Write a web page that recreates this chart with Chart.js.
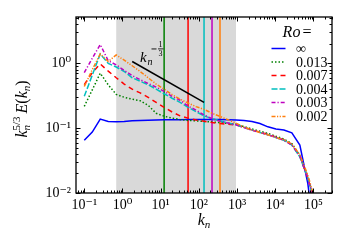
<!DOCTYPE html>
<html><head><meta charset="utf-8">
<script src="https://cdn.jsdelivr.net/npm/chart.js@4/dist/chart.umd.min.js"></script>
<style>html,body{margin:0;padding:0;background:#fff;}#wrap{width:350px;height:250px;position:relative;}</style>
</head><body><div id="wrap"><canvas id="c" width="350" height="250"></canvas></div>
<script>
// shell wavenumbers k_n
const kn = [0.1, 0.1618, 0.2618, 0.42361, 0.68541, 1.10902, 1.79443, 2.90344, 4.69787, 7.60132,
  12.2992, 19.9005, 32.1997, 52.1002, 84.2999, 136.4, 220.7, 357.1, 577.8, 934.9,
  1512.7, 2447.6, 3960.3, 6407.9, 10368.2, 16776.1, 27144.3, 43920.4, 71064.7, 114985];
const roLabels = ['\u221E', '0.013', '0.007', '0.004', '0.003', '0.002'];
const E_inf = [0.065, 0.087, 0.138, 0.127, 0.126, 0.127, 0.130, 0.132, 0.133, 0.134,
  0.135, 0.135, 0.135, 0.136, 0.136, 0.136, 0.136, 0.136, 0.135, 0.134,
  0.131, 0.127, 0.118, 0.105, 0.097, 0.094, 0.085, 0.055, 0.014, 0.0015];
const E_013 = [0.217, 0.39, 0.706, 0.467, 0.333, 0.30, 0.28, 0.265, 0.226, 0.17,
  0.153, 0.143, 0.136, 0.132, 0.130, 0.127, 0.125, 0.122, 0.118, 0.116,
  0.106, 0.097, 0.090, 0.083, 0.075, 0.068, 0.058, 0.038, 0.017, 0.006];
const E_007 = [0.47, 0.72, 0.98, 0.76, 0.60, 0.48, 0.40, 0.35, 0.30, 0.25,
  0.21, 0.178, 0.155, 0.143, 0.134, 0.128, 0.122, 0.118, 0.115, 0.112,
  0.103, 0.094, 0.087, 0.080, 0.073, 0.066, 0.056, 0.037, 0.017, 0.006];
const E_004 = [0.31, 0.66, 1.40, 1.00, 0.88, 0.75, 0.60, 0.53, 0.47, 0.40,
  0.34, 0.29, 0.25, 0.21, 0.18, 0.155, 0.14, 0.13, 0.12, 0.113,
  0.103, 0.094, 0.086, 0.079, 0.072, 0.065, 0.055, 0.036, 0.017, 0.006];
const E_003 = [0.72, 1.20, 1.95, 1.10, 0.95, 0.78, 0.65, 0.56, 0.49, 0.43,
  0.37, 0.31, 0.27, 0.22, 0.19, 0.16, 0.14, 0.128, 0.12, 0.113,
  0.102, 0.093, 0.086, 0.079, 0.072, 0.065, 0.055, 0.037, 0.017, 0.0065];
const E_002 = [0.44, 0.80, 1.40, 1.07, 1.35, 1.12, 0.92, 0.75, 0.60, 0.48,
  0.40, 0.33, 0.28, 0.245, 0.215, 0.195, 0.17, 0.152, 0.135, 0.12,
  0.104, 0.094, 0.086, 0.079, 0.072, 0.066, 0.057, 0.039, 0.019, 0.007];
const seriesColors = ['#0000ff', '#008000', '#ff0000', '#00bfbf', '#bf00bf', '#ff7f0e'];
const seriesDash = [[], [1.5, 2], [5, 4], [6, 2], [4, 2, 1.2, 2], [4, 1.5, 1.2, 1.5, 1.2, 1.5]];
// dissipation wavenumbers (vertical lines) for Ro = 0.013 ... 0.002
const cutoffK = [12.2992, 52.1002, 136.4, 220.7, 357.1];
// shaded band
const spanK = [0.68541, 934.9];
// k^{-1/3} reference segment endpoints
const slopeK = [1.79443, 136.4];
const slopeE = [1.07, 0.25];
const xTickExp = [-1, 0, 1, 2, 3, 4, 5];
const yTickExp = [-2, -1, 0];
const xMin = 0.0607, xMax = 3.05e5, yMin = 0.01, yMax = 5.2;

const supMap = {'-': '\u207B', '0': '\u2070', '1': '\u00B9', '2': '\u00B2', '3': '\u00B3', '4': '\u2074', '5': '\u2075', '6': '\u2076', '7': '\u2077', '8': '\u2078', '9': '\u2079'};
function powLabel(v) {
  const e = Math.round(Math.log10(v));
  return '10' + String(e).split('').map(c => supMap[c]).join('');
}
const SERIF = '"Liberation Serif", "DejaVu Serif", serif';

const seriesArr = [E_inf, E_013, E_007, E_004, E_003, E_002];
const datasets = [];
seriesArr.forEach((arr, i) => {
  datasets.push({
    label: 'Ro=' + roLabels[i],
    data: kn.map((k, j) => ({x: k, y: arr[j]})),
    borderColor: seriesColors[i], borderWidth: 1.5, borderDash: seriesDash[i],
    pointRadius: 0, tension: 0, fill: false, order: 6 - i
  });
});
cutoffK.forEach((k, i) => {
  datasets.push({
    label: 'cut' + i,
    data: [{x: k, y: yMin}, {x: k, y: yMax}],
    borderColor: seriesColors[i + 1], borderWidth: 1.5, pointRadius: 0, order: 20
  });
});
datasets.push({
  label: 'slope',
  data: [{x: slopeK[0], y: slopeE[0]}, {x: slopeK[1], y: slopeE[1]}],
  borderColor: '#000', borderWidth: 1.5, pointRadius: 0, order: 0
});

function drawPieces(ctx, pieces, x, y, align) {
  let total = 0;
  pieces.forEach(p => { ctx.font = p.f; p.w = (p.adv !== undefined) ? p.adv : ctx.measureText(p.t).width; total += p.w + (p.pre || 0); });
  let cx = align === 'center' ? x - total / 2 : x;
  ctx.textBaseline = 'alphabetic'; ctx.textAlign = 'left';
  pieces.forEach(p => {
    cx += (p.pre || 0);
    ctx.font = p.f;
    ctx.fillText(p.t, cx, y + (p.dy || 0));
    cx += p.w;
  });
}

const decor = {
  id: 'decor',
  beforeDatasetsDraw(chart) {
    const {ctx, chartArea: a, scales: {x}} = chart;
    const x1 = x.getPixelForValue(spanK[0]), x2 = x.getPixelForValue(spanK[1]);
    ctx.save();
    ctx.fillStyle = '#d9d9d9';
    ctx.fillRect(x1, a.top, x2 - x1, a.bottom - a.top);
    ctx.restore();
  },
  afterDatasetsDraw(chart) {
    const {ctx, chartArea: a, scales: {x, y}} = chart;
    ctx.save();
    // ticks (inward, all sides)
    ctx.strokeStyle = '#000'; ctx.lineWidth = 1;
    const tick = (px, len, vert) => {
      ctx.beginPath();
      if (vert) {
        ctx.moveTo(px, a.bottom); ctx.lineTo(px, a.bottom - len);
        ctx.moveTo(px, a.top); ctx.lineTo(px, a.top + len);
      } else {
        ctx.moveTo(a.left, px); ctx.lineTo(a.left + len, px);
        ctx.moveTo(a.right, px); ctx.lineTo(a.right - len, px);
      }
      ctx.stroke();
    };
    for (let e = -2; e <= 5; e++) {
      for (let m = 1; m <= 9; m++) {
        const v = m * Math.pow(10, e);
        if (v < xMin || v > xMax) continue;
        const px = Math.round(x.getPixelForValue(v)) + 0.5;
        tick(px, m === 1 ? 4.5 : 2.5, true);
      }
    }
    for (let e = -2; e <= 0; e++) {
      for (let m = 1; m <= 9; m++) {
        const v = m * Math.pow(10, e);
        if (v < yMin || v > yMax) continue;
        const py = Math.round(y.getPixelForValue(v)) + 0.5;
        tick(py, m === 1 ? 4.5 : 2.5, false);
      }
    }
    // frame
    ctx.lineWidth = 1.3;
    ctx.strokeRect(a.left, a.top, a.right - a.left, a.bottom - a.top);

    ctx.fillStyle = '#000';
    const it = s => 'italic ' + s + 'px ' + SERIF;
    const rm = s => s + 'px ' + SERIF;
    // k_n^{-1/3} label
    ctx.font = it(15); ctx.fillText('k', 140, 62);
    ctx.font = it(10); ctx.fillText('n', 147.5, 65);
    ctx.fillRect(151.5, 48.5, 5, 0.9);
    ctx.font = rm(8); ctx.textAlign = 'center';
    ctx.fillText('1', 160.5, 46.5);
    ctx.fillText('3', 160.5, 55.5);
    ctx.fillRect(158, 48.5, 5.5, 0.8);
    ctx.textAlign = 'left';

    // x title
    drawPieces(ctx, [{t: 'k', f: it(16)}, {t: 'n', f: it(11), dy: 3}], 204, 225, 'center');
    // y title
    ctx.save();
    ctx.translate(27, 109); ctx.rotate(-Math.PI / 2);
    drawPieces(ctx, [
      {t: 'k', f: it(16)}, {t: 'n', f: it(11), dy: 3, adv: 0}, {t: '5/3', f: rm(11), dy: -7},
      {t: 'E', f: it(16), pre: 3}, {t: '(', f: rm(16)}, {t: 'k', f: it(16)}, {t: 'n', f: it(11), dy: 3}, {t: ')', f: rm(16)}
    ], 0, 0, 'center');
    ctx.restore();

    // legend
    drawPieces(ctx, [{t: 'Ro', f: it(16)}, {t: '=', f: rm(16), pre: 2}], 297, 37, 'center');
    const rowY = [48.5, 62, 75.5, 89, 102.5, 116.5];
    roLabels.forEach((lab, i) => {
      ctx.strokeStyle = seriesColors[i]; ctx.lineWidth = 1.5;
      ctx.setLineDash(seriesDash[i]);
      ctx.beginPath(); ctx.moveTo(271.5, rowY[i]); ctx.lineTo(285.5, rowY[i]); ctx.stroke();
      ctx.setLineDash([]);
      ctx.font = rm(14); ctx.fillStyle = '#000';
      ctx.textBaseline = 'middle'; ctx.fillText(lab, 296, rowY[i] + 1);
    });
    ctx.restore();
  }
};

new Chart(document.getElementById('c'), {
  type: 'line',
  data: {datasets},
  options: {
    responsive: false, animation: false, devicePixelRatio: 1,
    layout: {padding: {top: 17, right: 18, left: 0, bottom: 0}},
    plugins: {legend: {display: false}, tooltip: {enabled: false}},
    scales: {
      x: {
        type: 'logarithmic', min: xMin, max: xMax,
        afterFit: s => { s.height = 57; },
        afterBuildTicks: s => { s.ticks = xTickExp.map(e => ({value: Math.pow(10, e)})); },
        grid: {display: false, drawTicks: false}, border: {display: false},
        ticks: {color: '#000', font: {family: SERIF, size: 14}, padding: 4, maxRotation: 0, autoSkip: false, callback: v => powLabel(v)}
      },
      y: {
        type: 'logarithmic', min: yMin, max: yMax,
        afterFit: s => { s.width = 76; },
        afterBuildTicks: s => { s.ticks = yTickExp.map(e => ({value: Math.pow(10, e)})); },
        grid: {display: false, drawTicks: false}, border: {display: false},
        ticks: {color: '#000', font: {family: SERIF, size: 14}, padding: 5, autoSkip: false, callback: v => powLabel(v)}
      }
    }
  },
  plugins: [decor]
});
</script></body></html>
